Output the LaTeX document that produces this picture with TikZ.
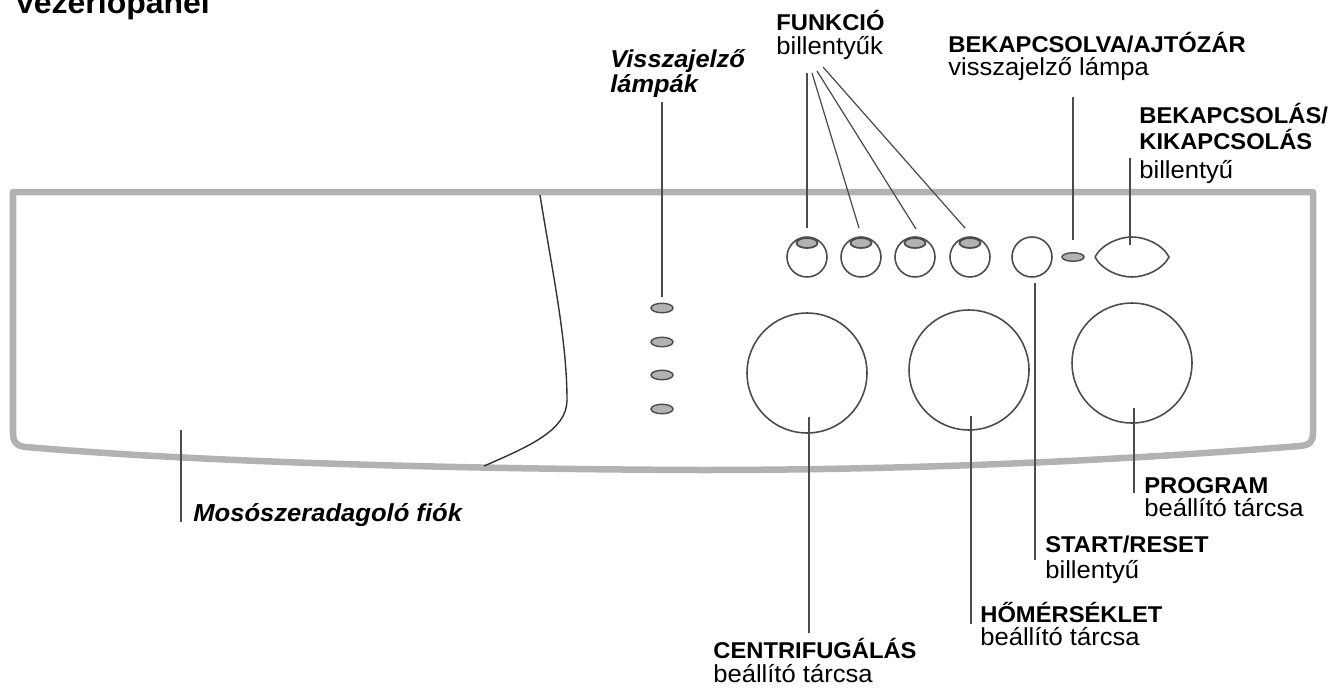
\documentclass[tikz,border=0pt]{standalone}
\usepackage{fontspec}
\setmainfont{Liberation Sans}[FakeStretch=1.04]
\usetikzlibrary{shapes.geometric}
\tikzset{
    lamp/.style={draw=black!70, fill=black!30, line width=0.8pt, ellipse, inner sep=0pt, minimum width=0.44cm, minimum height=0.19cm},
    knob/.style={draw=black!70, line width=0.9pt, circle, inner sep=0pt},
    leader/.style={draw=black!70, line width=0.7pt},
    boldlab/.style={anchor=base west, inner sep=0pt, font=\fontsize{13}{14}\selectfont\bfseries},
    plainlab/.style={anchor=base west, inner sep=0pt, font=\fontsize{14}{15}\selectfont},
    italab/.style={anchor=base west, inner sep=0pt, font=\fontsize{13.9}{15}\selectfont\bfseries\itshape},
}
\begin{document}
\begin{tikzpicture}[x=0.02cm, y=-0.02cm]
    \useasboundingbox (0,0) rectangle (1332,690);
    % Panel outline
    \draw[black!30, line width=3.7pt, line join=round]
        (13,192) -- (1313,192) -- (1313,432) .. controls (1313,442) and (1310,445) .. (1300,446)
        .. controls (1100,462) and (900,470) .. (700,470)
        .. controls (450,469) and (200,462) .. (26,447)
        .. controls (16,446) and (13,442) .. (13,432) -- cycle;
    % Drawer edge
    \draw[black!80, line width=0.8pt] (540,195) .. controls (552,270) and (567,340) .. (567,400)
        .. controls (567,430) and (530,446) .. (484,466);
    % Lamps left
    \foreach \y/\nam in {308/a, 342/b, 375/c, 409/d} {
        \node[lamp] (lamp\nam) at (662,\y) {};
    }
    % Function keys
    \foreach \x/\nam in {807/a, 861/b, 915/c, 970/d} {
        \node[knob, minimum size=0.8cm] (func\nam) at (\x,257) {};
        \node[lamp, minimum width=0.42cm, minimum height=0.2cm, line width=1pt] (flamp\nam) at (\x,243) {};
    }
    % Start, lamp, power
    \node[knob, minimum size=0.8cm] (start) at (1032,257) {};
    \node[lamp, minimum height=0.17cm] (doorlamp) at (1073,257) {};
    \coordinate (powerL) at (1095,257);
    \coordinate (powerR) at (1169,257);
    \draw[draw=black!70, line width=0.9pt] (powerL) .. controls (1101,245) and (1118,237) .. (1132,237)
        .. controls (1146,237) and (1163,245) .. (powerR)
        .. controls (1163,269) and (1146,277) .. (1132,277)
        .. controls (1118,277) and (1101,269) .. (powerL);
    % Dials
    \node[knob, minimum size=2.4cm] (spin) at (807,373) {};
    \node[knob, minimum size=2.4cm] (temp) at (969,370) {};
    \node[knob, minimum size=2.4cm] (prog) at (1132,363) {};
    % Labels
    \node[boldlab, font=\fontsize{17.5}{18}\selectfont\bfseries] (title) at (14,13) {Vezérlőpanel};
    \node[boldlab] (funclab) at (776,30) {FUNKCIÓ};
    \node[plainlab] (funcsub) at (776,54) {billentyűk};
    \node[italab] (lamplab) at (610,67) {Visszajelző};
    \node[italab] (lampsub) at (610,92) {lámpák};
    \node[boldlab] (doorlab) at (948,52) {BEKAPCSOLVA/AJTÓZÁR};
    \node[plainlab] (doorsub) at (948,75) {visszajelző lámpa};
    \node[boldlab] (powerlab) at (1139,123) {BEKAPCSOLÁS/};
    \node[boldlab] (powerlabb) at (1139,149) {KIKAPCSOLÁS};
    \node[plainlab] (powersub) at (1139,178) {billentyű};
    \node[italab, font=\fontsize{14}{15}\selectfont\bfseries\itshape] (drawerlab) at (193,521) {Mosószeradagoló fiók};
    \node[boldlab] (proglab) at (1144,493) {PROGRAM};
    \node[plainlab] (progsub) at (1144,516) {beállító tárcsa};
    \node[boldlab] (startlab) at (1045,552) {START/RESET};
    \node[plainlab] (startsub) at (1045,578) {billentyű};
    \node[boldlab] (templab) at (980,622) {HŐMÉRSÉKLET};
    \node[plainlab] (tempsub) at (980,645) {beállító tárcsa};
    \node[boldlab] (spinlab) at (713,658) {CENTRIFUGÁLÁS};
    \node[plainlab] (spinsub) at (713,682) {beállító tárcsa};
    % Leader lines
    \coordinate (fa) at (807,73);
    \coordinate (fb) at (812,73);
    \coordinate (fc) at (817,71);
    \coordinate (fd) at (823,67);
    \draw[leader] (fa) -- (807,228);
    \draw[leader] (fb) -- (859,228);
    \draw[leader] (fc) -- (916,229);
    \draw[leader] (fd) -- (965,228);
    \draw[leader] (662,102) -- (662,297);
    \draw[leader] (1073,97) -- (1073,240);
    \draw[leader] (1130,158) -- (1130,245);
    \draw[leader] (1035,283) -- (1035,560);
    \draw[leader] (1134,408) -- (1134,493);
    \draw[leader] (971,416) -- (971,624);
    \draw[leader] (809,417) -- (809,633);
    \draw[leader] (181,430) -- (181,522);
\end{tikzpicture}
\end{document}
